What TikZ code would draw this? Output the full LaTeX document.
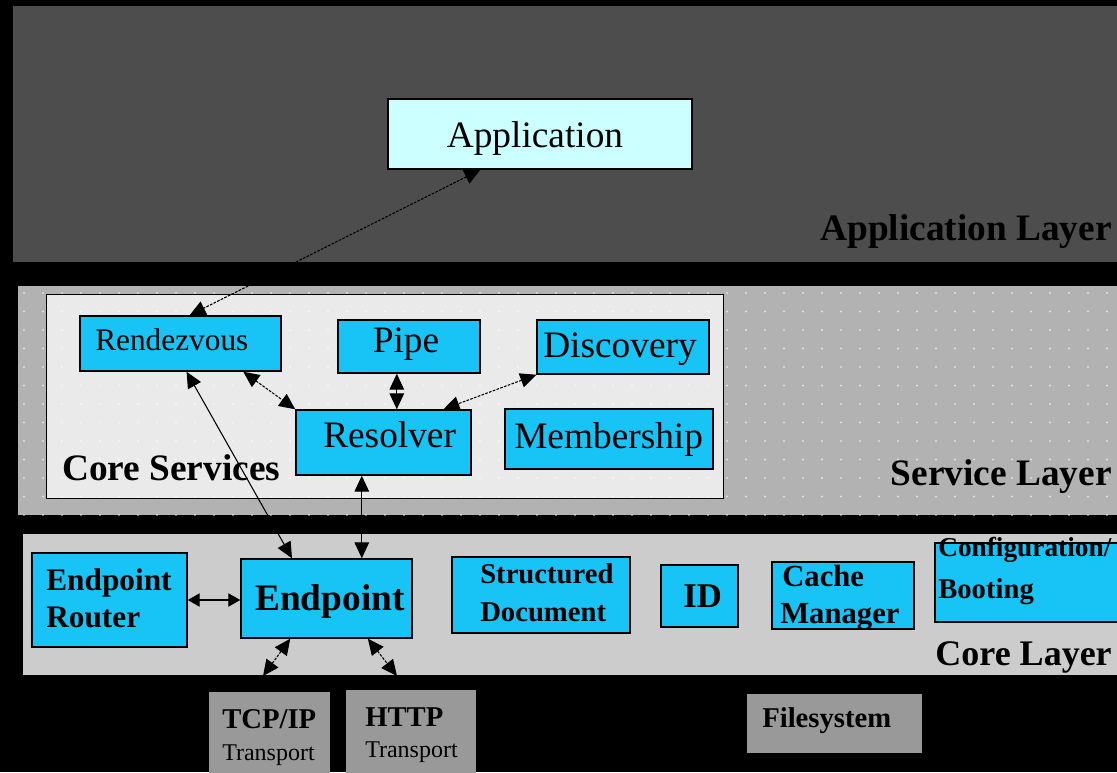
\documentclass[tikz,border=0pt]{standalone}
\usepackage{fontspec}
\setmainfont{Liberation Serif}
\usetikzlibrary{arrows.meta,fit,calc}

\definecolor{applayer}{RGB}{77,77,77}
\definecolor{svclayer}{RGB}{178,178,178}
\definecolor{corelayer}{RGB}{204,204,204}
\definecolor{coresvc}{RGB}{234,234,234}
\definecolor{compfill}{RGB}{24,196,245}
\definecolor{appfill}{RGB}{204,255,255}
\definecolor{extfill}{RGB}{153,153,153}

\tikzset{
  layerbox/.style={draw=black, line width=0.8pt, inner sep=0pt},
  compbox/.style={draw=black, line width=1.1pt, fill=compfill, inner sep=0pt},
  extbox/.style={fill=extfill, inner sep=0pt},
  lbl/.style={inner sep=0pt, text=black},
  link/.style={line width=0.8pt,
    {Triangle[length=12pt,width=11pt]}-{Triangle[length=12pt,width=11pt]}},
  shortlink/.style={line width=0.8pt,
    {Triangle[length=9pt,width=10pt]}-{Triangle[length=9pt,width=10pt]}},
  dlink/.style={link, dash pattern=on 2pt off 1pt},
}

\begin{document}
\begin{tikzpicture}[x=0.75pt,y=-0.75pt]
  \clip (0,0) rectangle (1117,772);
  \fill[black] (0,0) rectangle (1117,772);

  % ---------------- Application layer ----------------
  \node[layerbox, fill=applayer, fit={(12,5) (1130,263)}] (applayer) {};
  \node[draw=black, line width=1.1pt, fill=appfill, inner sep=0pt, fit={(388,99) (692,169)}] (app) {};
  \node[lbl, anchor=base, font=\fontsize{28}{32}\selectfont] (appT) at (535,147) {Application};
  \node[lbl, anchor=base east, font=\fontsize{28}{32}\selectfont\bfseries] (appLT) at (1112,240) {Application Layer};

  % ---------------- Service layer ----------------
  \node[layerbox, fill=svclayer, fit={(17,285) (1130,516)}] (svclayer) {};
  \node[inner sep=0pt, fill=coresvc, fit={(47,295) (723,498)}] (cs) {};
  \begin{scope}
    \clip (17,285) rectangle (1117,516);
    \foreach \x in {24,43,...,1117}
      \foreach \y in {293,311.5,...,516}
        \fill[white, opacity=0.6] (\x,\y) circle (0.8pt);
  \end{scope}
  \draw[black, line width=1pt] (cs.north west) rectangle (cs.south east);

  \node[compbox, fit={(80,316) (281,371)}] (rdv) {};
  \node[compbox, fit={(338,320) (480,373)}] (pipe) {};
  \node[compbox, fit={(537,320) (709,374)}] (disc) {};
  \node[compbox, fit={(296,410) (471,475)}] (res) {};
  \node[compbox, fit={(505,409) (713,469)}] (memb) {};

  \node[lbl, anchor=base west, font=\fontsize{23.5}{28}\selectfont] (rdvT) at (95,350) {Rendezvous};
  \node[lbl, anchor=base, font=\fontsize{28}{32}\selectfont] (pipeT) at (406,352) {Pipe};
  \node[lbl, anchor=base west, font=\fontsize{28}{32}\selectfont] (discT) at (543,357) {Discovery};
  \node[lbl, anchor=base west, font=\fontsize{28}{32}\selectfont] (resT) at (323,447) {Resolver};
  \node[lbl, anchor=base west, font=\fontsize{28}{32}\selectfont] (membT) at (514,448) {Membership};
  \node[lbl, anchor=base west, font=\fontsize{28}{32}\selectfont\bfseries] (csT) at (62,480) {Core Services};
  \node[lbl, anchor=base east, font=\fontsize{28}{32}\selectfont\bfseries] (svcT) at (1112,485) {Service Layer};

  % ---------------- Core layer ----------------
  \node[layerbox, fill=corelayer, fit={(22,533) (1130,676)}] (corelayer) {};

  \node[compbox, fit={(32,553) (187,647)}] (epr) {};
  \node[compbox, fit={(241,559) (412,638)}] (ep) {};
  \node[compbox, fit={(452,557) (630,633)}] (sdoc) {};
  \node[compbox, fit={(661,565) (738,627)}] (id) {};
  \node[compbox, fit={(772,562) (914,629)}] (cache) {};
  \node[compbox, fit={(935,543) (1130,622)}] (conf) {};

  \node[lbl, anchor=base west, font=\fontsize{23.5}{28}\selectfont\bfseries] (eprA) at (46,590) {Endpoint};
  \node[lbl, anchor=base west, font=\fontsize{23.5}{28}\selectfont\bfseries] (eprB) at (46,627) {Router};
  \node[lbl, anchor=base west, font=\fontsize{28}{32}\selectfont\bfseries] (epT) at (255,610) {Endpoint};
  \node[lbl, anchor=base west, font=\fontsize{21.5}{26}\selectfont\bfseries] (sdocA) at (480,583) {Structured};
  \node[lbl, anchor=base west, font=\fontsize{21.5}{26}\selectfont\bfseries] (sdocB) at (480,621) {Document};
  \node[lbl, anchor=base west, font=\fontsize{26}{30}\selectfont\bfseries] (idT) at (683,607) {ID};
  \node[lbl, anchor=base west, font=\fontsize{23}{28}\selectfont\bfseries] (cacheA) at (782,586) {Cache};
  \node[lbl, anchor=base west, font=\fontsize{23}{28}\selectfont\bfseries] (cacheB) at (780,623) {Manager};
  \node[lbl, anchor=base west, font=\fontsize{20.5}{26}\selectfont\bfseries] (confA) at (938,556) {Configuration/};
  \node[lbl, anchor=base west, font=\fontsize{21.5}{26}\selectfont\bfseries] (confB) at (938,598) {Booting};
  \node[lbl, anchor=base east, font=\fontsize{27}{32}\selectfont\bfseries] (coreT) at (1112,665) {Core Layer};

  % ---------------- External services ----------------
  \node[extbox, fit={(209,692) (330,780)}] (tcp) {};
  \node[extbox, fit={(346,690) (476,780)}] (http) {};
  \node[extbox, fit={(747,694) (922,753)}] (fs) {};

  \node[lbl, anchor=base west, font=\fontsize{21.5}{26}\selectfont\bfseries] (tcpA) at (222,728) {TCP/IP};
  \node[lbl, anchor=base west, font=\fontsize{18}{22}\selectfont] (tcpB) at (222,760) {Transport};
  \node[lbl, anchor=base west, font=\fontsize{21.5}{26}\selectfont\bfseries] (httpA) at (365,726) {HTTP};
  \node[lbl, anchor=base west, font=\fontsize{18}{22}\selectfont] (httpB) at (365,757) {Transport};
  \node[lbl, anchor=base west, font=\fontsize{21.5}{26}\selectfont\bfseries] (fsT) at (762,727) {Filesystem};

  % ---------------- Connectors ----------------
  \coordinate (tcpEnd) at (263,676);
  \coordinate (httpEnd) at (397,676);

  \draw[dlink] ($(app.south west)!0.305!(app.south east)$) -- ($(rdv.north west)!0.545!(rdv.north east)$);
  \draw[dlink] ($(rdv.south west)!0.81!(rdv.south east)$) -- (res.north west);
  \coordinate (pipeS) at ($(pipe.south west)!0.415!(pipe.south east)$);
  \draw[link] (pipeS) -- (pipeS |- res.north);
  \draw[dlink] (disc.south west) -- ($(res.north west)!0.84!(res.north east)$);
  \draw[link] ($(rdv.south west)!0.53!(rdv.south east)$) -- ($(ep.north west)!0.3!(ep.north east)$);
  \coordinate (resS) at ($(res.south west)!0.377!(res.south east)$);
  \draw[link] (resS) -- (resS |- ep.north);
  \draw[shortlink] (epr.east) -- (epr.east -| ep.west);
  \draw[dlink] ($(ep.south west)!0.29!(ep.south east)$) -- (tcpEnd);
  \draw[dlink] ($(ep.south west)!0.74!(ep.south east)$) -- (httpEnd);
\end{tikzpicture}
\end{document}
